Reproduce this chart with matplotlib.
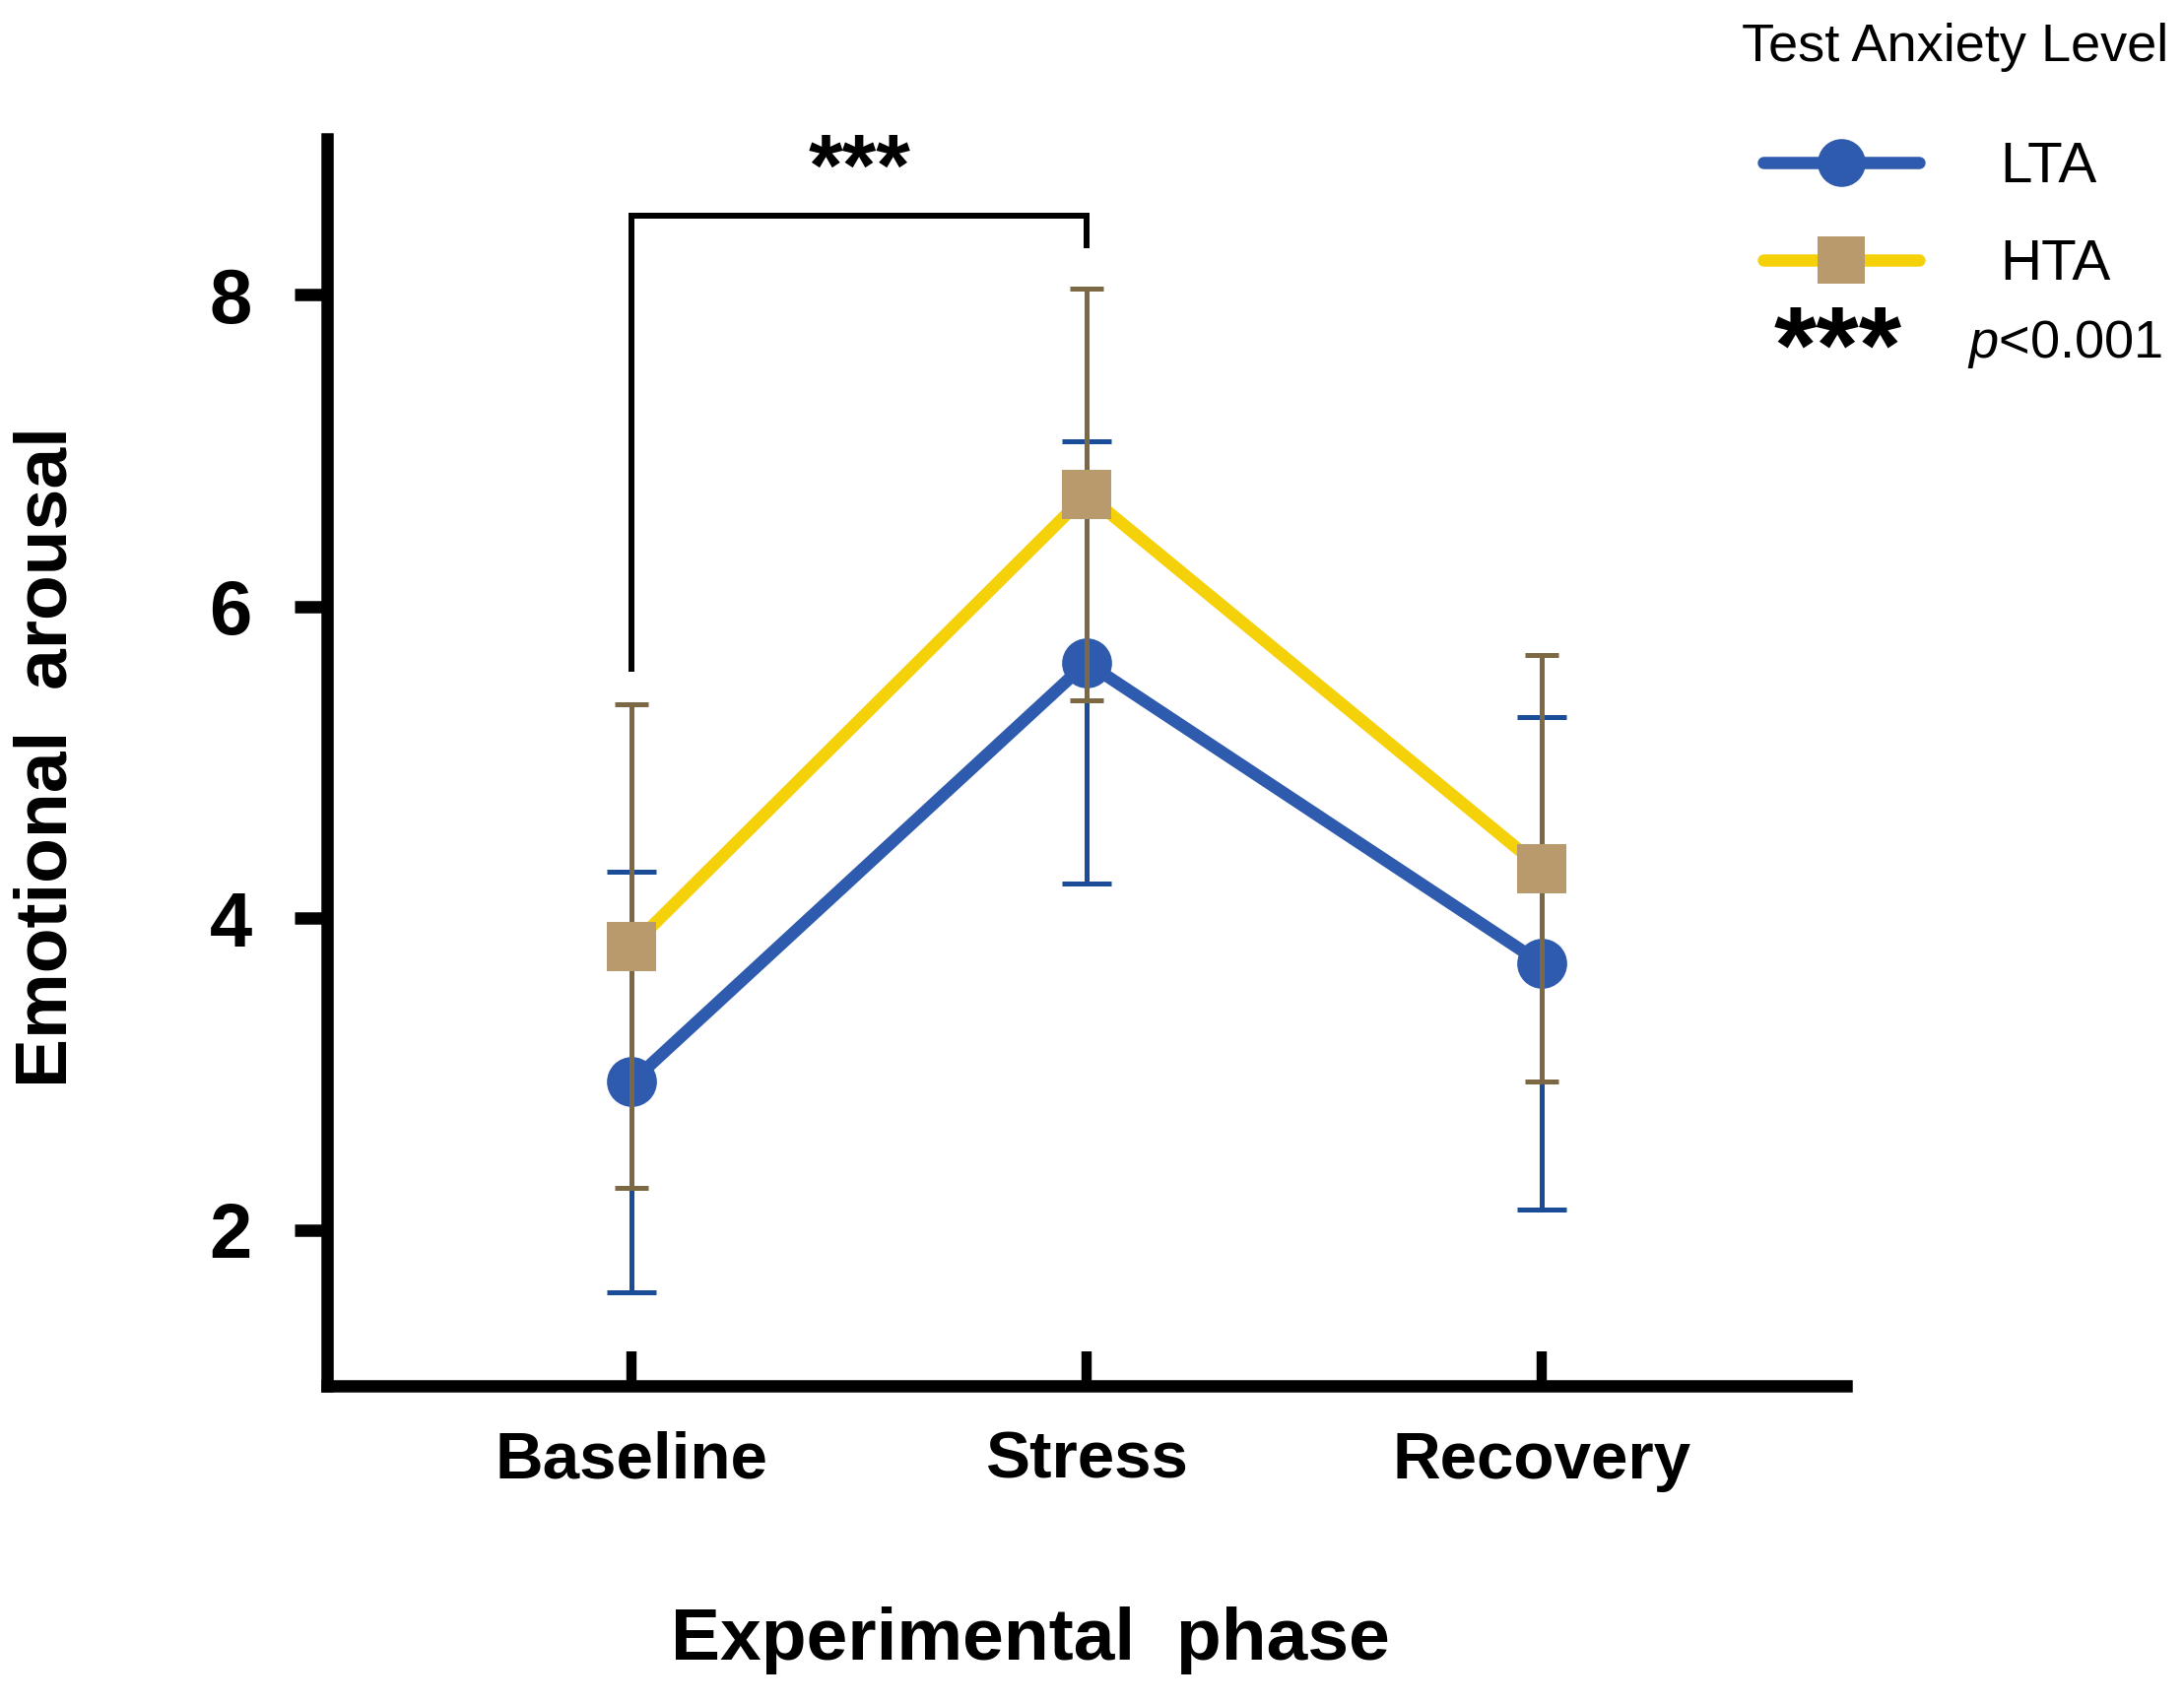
import matplotlib
matplotlib.use('Agg')
import matplotlib.pyplot as plt
from matplotlib.lines import Line2D

plt.rcParams['font.family'] = ['Liberation Sans', 'DejaVu Sans']
plt.rcParams['mathtext.fontset'] = 'custom'
plt.rcParams['mathtext.it'] = 'Liberation Sans:italic'
plt.rcParams['mathtext.rm'] = 'Liberation Sans'

# ---- data ----
phases = ['Baseline', 'Stress', 'Recovery']
lta_mean = [2.95, 5.64, 3.71]
lta_err = [1.35, 1.42, 1.58]
hta_mean = [3.82, 6.72, 4.32]
hta_err = [1.55, 1.32, 1.37]
yticks = [2, 4, 6, 8]
group_labels = ['LTA', 'HTA']
sig_pair = (0, 1)
sig_bracket_y = [5.60, 8.51, 8.32]   # left leg bottom, top, right leg bottom
sig_label = '***'

# ---- colours ----
c_lta_line = '#2F5BAE'
c_lta_err = '#1B4C97'
c_hta_line = '#F5D10A'
c_hta_mark = '#B89A6C'
c_hta_err = '#7C6843'

fig = plt.figure(figsize=(22.17, 17.29), dpi=100)
ax = fig.add_axes([0.1498, 0.1863, 0.6955, 0.7321])
x = list(range(len(phases)))

ax.errorbar(x, lta_mean, yerr=lta_err, fmt='none', ecolor=c_lta_err,
            elinewidth=3.6, capsize=18, capthick=3.6, zorder=2)
ax.plot(x, lta_mean, color=c_lta_line, lw=9, marker='o', ms=36.5,
        mfc=c_lta_line, mew=0, zorder=3)
ax.plot(x, hta_mean, color=c_hta_line, lw=9, zorder=4)
ax.errorbar(x, hta_mean, yerr=hta_err, fmt='none', ecolor=c_hta_err,
            elinewidth=3.6, capsize=12.5, capthick=3.6, zorder=5)
ax.plot(x, hta_mean, ls='none', marker='s', ms=36.5, mfc=c_hta_mark,
        mew=0, zorder=6)

# significance bracket
x0, x1 = sig_pair
ax.plot([x0, x0, x1, x1],
        [sig_bracket_y[0], sig_bracket_y[1], sig_bracket_y[1], sig_bracket_y[2]],
        color='black', lw=4.3, solid_joinstyle='miter', clip_on=False, zorder=7)
ax.text(x0 + 0.5 * (x1 - x0), 8.79, sig_label, ha='center', va='center',
        fontsize=64, fontweight='bold')

# axes
ax.set_xlim(-0.67, 2.67)
ax.set_ylim(1.0, 9.0)
ax.set_xticks(x)
ax.set_xticklabels(phases, fontsize=48.5, fontweight='bold')
ax.set_yticks(yticks)
ax.set_yticklabels([str(v) for v in yticks], fontsize=56, fontweight='bold')
ax.tick_params(axis='x', direction='in', length=25, width=7.5, pad=33)
ax.tick_params(axis='y', direction='out', length=24, width=9, pad=31)
for s in ['top', 'right']:
    ax.spines[s].set_visible(False)
for s in ['left', 'bottom']:
    ax.spines[s].set_linewidth(9)
    ax.spines[s].set_capstyle('projecting')

fig.text(1046 / 2217, 1 - 1665 / 1729, 'Experimental  phase', ha='center',
         va='center', fontsize=54, fontweight='bold')
fig.text(48 / 2217, 1 - 769 / 1729, 'Emotional  arousal', ha='center',
         va='center', rotation=90, fontsize=54, fontweight='bold')

# legend
handles = [
    Line2D([], [], color=c_lta_line, lw=9, marker='o', ms=35, mfc=c_lta_line,
           mew=0, solid_capstyle='round'),
    Line2D([], [], color=c_hta_line, lw=9, marker='s', ms=35, mfc=c_hta_mark,
           mew=0, solid_capstyle='round'),
]
fig.legend(handles, group_labels, loc='upper left',
           bbox_to_anchor=(1790 / 2217, 1 - 143 / 1729), frameon=False,
           fontsize=42, handlelength=2.7, handletextpad=1.42,
           labelspacing=0.77, borderpad=0, borderaxespad=0)
fig.text(1985 / 2217, 1 - 62 / 1729, 'Test Anxiety Level', ha='center',
         va='baseline', fontsize=39)
fig.text(1866 / 2217, 1 - 360 / 1729, sig_label, ha='center', va='center',
         fontsize=80, fontweight='bold')
fig.text(1997 / 2217, 1 - 363 / 1729, r'$p$<0.001', ha='left',
         va='baseline', fontsize=39)

fig.savefig('out.png', dpi=100)
